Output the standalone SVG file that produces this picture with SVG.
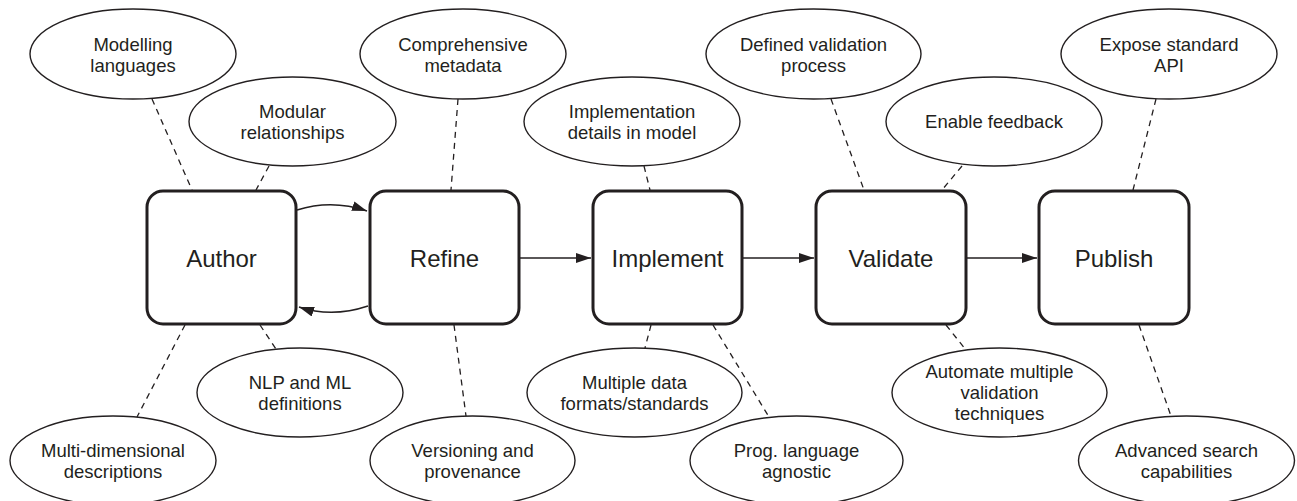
<svg xmlns="http://www.w3.org/2000/svg" width="1297" height="501" viewBox="0 0 1297 501">
<style>
.box{fill:#fff;stroke:#231f20;stroke-width:3}
.ell{fill:#fff;stroke:#231f20;stroke-width:1.4}
.bt{font-family:"Liberation Sans",Arial,sans-serif;font-size:24px;fill:#231f20;text-anchor:middle}
.et{font-family:"Liberation Sans",Arial,sans-serif;font-size:18.5px;fill:#231f20;text-anchor:middle}
.dash{stroke:#231f20;stroke-width:1.3;stroke-dasharray:6 5;fill:none}
.arr{stroke:#231f20;stroke-width:1.5;fill:none;marker-end:url(#ah)}
</style>
<defs>
<marker id="ah" markerUnits="userSpaceOnUse" markerWidth="16" markerHeight="11" refX="15" refY="5" orient="auto">
<path d="M0,0 L15,5 L0,10 z" fill="#231f20"/>
</marker>
</defs>
<rect width="1297" height="501" fill="#fff"/>
<g id="connectors">
<line class="dash" x1="152" y1="99" x2="192" y2="190"/>
<line class="dash" x1="269" y1="166" x2="256" y2="190"/>
<line class="dash" x1="458" y1="99" x2="451" y2="190"/>
<line class="dash" x1="644" y1="166" x2="650" y2="190"/>
<line class="dash" x1="831" y1="99" x2="864" y2="190"/>
<line class="dash" x1="962" y1="166" x2="942" y2="190"/>
<line class="dash" x1="1156" y1="99" x2="1133" y2="190"/>
<line class="dash" x1="185" y1="325" x2="137" y2="417"/>
<line class="dash" x1="260" y1="325" x2="276" y2="349"/>
<line class="dash" x1="454" y1="325" x2="466" y2="416"/>
<line class="dash" x1="651" y1="325" x2="645" y2="348"/>
<line class="dash" x1="713" y1="325" x2="769" y2="417"/>
<line class="dash" x1="946" y1="325" x2="966" y2="350"/>
<line class="dash" x1="1139" y1="325" x2="1171" y2="416"/>
<path class="arr" d="M297,210 Q332,199 367,211"/>
<path class="arr" d="M368,306 Q332,318 299,307"/>
<line class="arr" x1="520" y1="258" x2="591" y2="258"/>
<line class="arr" x1="743" y1="258" x2="814" y2="258"/>
<line class="arr" x1="967" y1="258" x2="1037" y2="258"/>
</g>
<g id="author"><rect class="box" x="147" y="191" width="149" height="133" rx="16"/><text class="bt" x="221.5" y="267">Author</text></g>
<g id="refine"><rect class="box" x="370" y="191" width="149" height="133" rx="16"/><text class="bt" x="444.5" y="267">Refine</text></g>
<g id="implement"><rect class="box" x="593" y="191" width="149" height="133" rx="16"/><text class="bt" x="667.5" y="267">Implement</text></g>
<g id="validate"><rect class="box" x="816" y="191" width="150" height="133" rx="16"/><text class="bt" x="891" y="267">Validate</text></g>
<g id="publish"><rect class="box" x="1039" y="191" width="150" height="133" rx="16"/><text class="bt" x="1114" y="267">Publish</text></g>
<g id="modelling-languages"><ellipse class="ell" cx="133" cy="54" rx="103" ry="45"/><text class="et" x="133" y="51">Modelling</text><text class="et" x="133" y="72">languages</text></g>
<g id="modular-relationships"><ellipse class="ell" cx="292.5" cy="121.5" rx="103.5" ry="44.5"/><text class="et" x="292.5" y="118">Modular</text><text class="et" x="292.5" y="139">relationships</text></g>
<g id="comprehensive-metadata"><ellipse class="ell" cx="463" cy="54" rx="103" ry="45"/><text class="et" x="463" y="51">Comprehensive</text><text class="et" x="463" y="72">metadata</text></g>
<g id="implementation-details"><ellipse class="ell" cx="632" cy="121.5" rx="108" ry="44.5"/><text class="et" x="632" y="118">Implementation</text><text class="et" x="632" y="139">details in model</text></g>
<g id="defined-validation"><ellipse class="ell" cx="813.5" cy="54" rx="107.5" ry="45"/><text class="et" x="813.5" y="51">Defined validation</text><text class="et" x="813.5" y="72">process</text></g>
<g id="enable-feedback"><ellipse class="ell" cx="994" cy="121.5" rx="108" ry="44.5"/><text class="et" x="994" y="128">Enable feedback</text></g>
<g id="expose-api"><ellipse class="ell" cx="1169" cy="54" rx="108" ry="45"/><text class="et" x="1169" y="51">Expose standard</text><text class="et" x="1169" y="72">API</text></g>
<g id="multi-dimensional"><ellipse class="ell" cx="113" cy="460.5" rx="103" ry="44.5"/><text class="et" x="113" y="457">Multi-dimensional</text><text class="et" x="113" y="478">descriptions</text></g>
<g id="nlp-ml"><ellipse class="ell" cx="300" cy="392.5" rx="103" ry="44.5"/><text class="et" x="300" y="389">NLP and ML</text><text class="et" x="300" y="410">definitions</text></g>
<g id="versioning"><ellipse class="ell" cx="472.5" cy="460.5" rx="102.5" ry="44.5"/><text class="et" x="472.5" y="457">Versioning and</text><text class="et" x="472.5" y="478">provenance</text></g>
<g id="multiple-data"><ellipse class="ell" cx="634.5" cy="392.5" rx="107.5" ry="44.5"/><text class="et" x="634.5" y="389">Multiple data</text><text class="et" x="634.5" y="410">formats/standards</text></g>
<g id="prog-language"><ellipse class="ell" cx="796.5" cy="460.5" rx="106.5" ry="44.5"/><text class="et" x="796.5" y="457">Prog. language</text><text class="et" x="796.5" y="478">agnostic</text></g>
<g id="automate-validation"><ellipse class="ell" cx="999.5" cy="392.5" rx="107.5" ry="44.5"/><text class="et" x="999.5" y="378">Automate multiple</text><text class="et" x="999.5" y="399">validation</text><text class="et" x="999.5" y="420">techniques</text></g>
<g id="advanced-search"><ellipse class="ell" cx="1186.5" cy="460.5" rx="108" ry="44.5"/><text class="et" x="1186.5" y="457">Advanced search</text><text class="et" x="1186.5" y="478">capabilities</text></g>
</svg>
